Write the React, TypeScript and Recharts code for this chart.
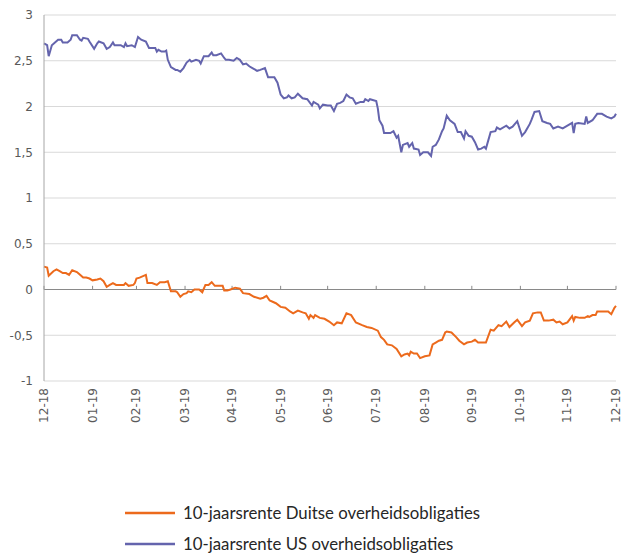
import React from 'react';
import {
  LineChart,
  Line,
  XAxis,
  YAxis,
  CartesianGrid,
  ReferenceLine,
  Legend,
} from 'recharts';

// days since 31-12-2018, month-end tick positions
const monthDays = [0, 31, 59, 90, 120, 151, 181, 212, 243, 273, 304, 334, 365];
const monthLabels = [
  '12-18', '01-19', '02-19', '03-19', '04-19', '05-19', '06-19',
  '07-19', '08-19', '09-19', '10-19', '11-19', '12-19',
];
const yTicks = [-1, -0.5, 0, 0.5, 1, 1.5, 2, 2.5, 3];

const deDays = [
  0, 2, 3, 6, 8, 10, 12, 14, 16, 18, 21, 23, 25, 27, 29, 31, 34, 36, 38, 40,
  42, 44, 46, 49, 51, 52, 54, 57, 58, 59, 61, 65, 66, 69, 72, 74, 77, 79, 81, 84,
  85, 87, 89, 91, 92, 94, 96, 99, 101, 103, 105, 107, 109, 111, 114, 115, 117, 119, 122, 125,
  127, 131, 134, 138, 140, 142, 144, 148, 151, 154, 157, 159, 162, 165, 167, 169, 170, 172, 173, 176,
  179, 182, 185, 187, 190, 193, 196, 199, 203, 206, 209, 213, 215, 217, 219, 222, 225, 228, 230, 232,
  233, 234, 236, 238, 240, 243, 246, 248, 250, 252, 254, 256, 257, 260, 263, 265, 268, 270, 273, 275,
  277, 280, 282, 285, 287, 290, 292, 295, 297, 300, 302, 305, 307, 310, 312, 315, 317, 319, 322, 325,
  327, 329, 331, 334, 337, 338, 339, 342, 345, 347, 348, 350, 352, 353, 356, 360, 362, 364, 365,
];
const deValues = [
  0.25, 0.24, 0.15, 0.2, 0.22, 0.2, 0.18, 0.18, 0.16, 0.21, 0.19, 0.16, 0.13, 0.13, 0.12, 0.1, 0.11, 0.12, 0.09, 0.03,
  0.05, 0.07, 0.05, 0.05, 0.05, 0.07, 0.04, 0.05, 0.07, 0.12, 0.13, 0.16, 0.07, 0.07, 0.05, 0.08, 0.08, 0.09, -0.02, -0.02,
  -0.03, -0.08, -0.05, -0.04, -0.02, -0.03, 0.0, 0.0, -0.03, 0.05, 0.05, 0.08, 0.04, 0.04, 0.04, -0.01, -0.01, 0.0, 0.02, 0.01,
  -0.04, -0.05, -0.08, -0.1, -0.09, -0.07, -0.12, -0.15, -0.19, -0.2, -0.24, -0.26, -0.23, -0.25, -0.26, -0.32, -0.28, -0.31, -0.28, -0.31,
  -0.32, -0.35, -0.39, -0.36, -0.37, -0.26, -0.28, -0.36, -0.39, -0.41, -0.42, -0.45, -0.52, -0.55, -0.6, -0.61, -0.65, -0.73, -0.71, -0.7,
  -0.72, -0.68, -0.7, -0.7, -0.75, -0.73, -0.72, -0.6, -0.58, -0.56, -0.55, -0.47, -0.46, -0.47, -0.52, -0.56, -0.6, -0.58, -0.57, -0.55,
  -0.58, -0.58, -0.58, -0.44, -0.45, -0.39, -0.4, -0.35, -0.41, -0.36, -0.33, -0.4, -0.36, -0.34, -0.26, -0.25, -0.25, -0.34, -0.34, -0.33,
  -0.36, -0.35, -0.38, -0.36, -0.29, -0.34, -0.3, -0.31, -0.31, -0.29, -0.3, -0.28, -0.28, -0.24, -0.24, -0.24, -0.27, -0.2, -0.18,
];

const usDays = [
  0, 2, 3, 5, 7, 9, 11, 12, 15, 17, 18, 21, 23, 24, 25, 28, 29, 32, 34, 35,
  38, 40, 42, 44, 45, 49, 51, 52, 53, 56, 58, 60, 62, 65, 67, 69, 71, 72, 73, 75,
  77, 78, 79, 81, 84, 85, 87, 89, 91, 93, 94, 97, 99, 100, 102, 105, 107, 108, 110, 113,
  115, 116, 118, 121, 123, 125, 127, 129, 131, 133, 136, 138, 141, 143, 147, 149, 151, 153, 155, 156,
  158, 160, 162, 165, 168, 171, 172, 175, 176, 178, 181, 183, 185, 187, 189, 191, 193, 195, 197, 199,
  202, 204, 205, 207, 208, 212, 213, 214, 216, 217, 221, 223, 225, 226, 228, 229, 232, 233, 235, 236,
  239, 240, 242, 245, 247, 248, 250, 252, 254, 255, 257, 259, 262, 264, 266, 268, 269, 271, 273, 275,
  277, 279, 281, 282, 285, 288, 289, 291, 295, 297, 299, 302, 305, 307, 310, 311, 313, 316, 318, 321,
  323, 325, 328, 331, 334, 337, 338, 339, 341, 345, 346, 347, 350, 353, 356, 359, 362, 364, 365,
];
const usValues = [
  2.69, 2.67, 2.55, 2.67, 2.7, 2.73, 2.73, 2.7, 2.7, 2.73, 2.78, 2.78, 2.73, 2.72, 2.75, 2.74, 2.71, 2.63, 2.69, 2.71,
  2.69, 2.63, 2.65, 2.7, 2.67, 2.67, 2.65, 2.69, 2.66, 2.67, 2.65, 2.76, 2.73, 2.71, 2.64, 2.64, 2.64, 2.6, 2.62, 2.6,
  2.6, 2.61, 2.51, 2.43, 2.4, 2.4, 2.38, 2.42, 2.48, 2.51, 2.49, 2.51, 2.5, 2.47, 2.55, 2.55, 2.59, 2.56, 2.56, 2.58,
  2.53, 2.51, 2.51, 2.5, 2.53, 2.51, 2.46, 2.47, 2.44, 2.42, 2.39, 2.4, 2.42, 2.32, 2.32, 2.26, 2.13, 2.09, 2.1, 2.12,
  2.09, 2.1, 2.14, 2.09, 2.08, 2.01, 2.05, 2.02, 1.98, 2.02, 2.01, 2.01, 1.95, 2.03, 2.04, 2.06, 2.13, 2.1, 2.09, 2.03,
  2.05, 2.05, 2.08, 2.06, 2.08, 2.06, 1.98, 1.85, 1.79, 1.71, 1.71, 1.73, 1.66, 1.68, 1.5, 1.58, 1.6, 1.56, 1.6, 1.54,
  1.53, 1.47, 1.5, 1.5, 1.46, 1.56, 1.58, 1.64, 1.73, 1.76, 1.9, 1.85, 1.81, 1.72, 1.72, 1.65, 1.73, 1.68, 1.67, 1.61,
  1.53, 1.54, 1.56, 1.54, 1.72, 1.73, 1.77, 1.75, 1.79, 1.76, 1.78, 1.84, 1.68, 1.72, 1.81, 1.85, 1.94, 1.95, 1.84, 1.82,
  1.81, 1.76, 1.78, 1.76, 1.79, 1.82, 1.71, 1.81, 1.82, 1.81, 1.89, 1.82, 1.85, 1.92, 1.92, 1.89, 1.87, 1.89, 1.92,
];

const deData = deDays.map((day, i) => ({ day, value: deValues[i] }));
const usData = usDays.map((day, i) => ({ day, value: usValues[i] }));

const axisText = { fontFamily: 'DejaVu Sans', fontSize: 12, fill: '#595959' };

const MonthTick = (props: any) => {
  const { x, y, payload } = props;
  const idx = monthDays.indexOf(payload.value);
  return (
    <g transform={`translate(${x},${y + 2})`}>
      <text x={0} y={0} dy={4} textAnchor='end' transform='rotate(-90)' {...axisText}>
        {monthLabels[idx]}
      </text>
    </g>
  );
};

const renderLegend = (props: any) => {
  const { payload } = props;
  return (
    <div>
      {payload.map((entry: any) => (
        <div key={entry.value} style={{ display: 'flex', alignItems: 'center', height: 31 }}>
          <svg width={50} height={4}>
            <line x1={0} y1={2} x2={50} y2={2} stroke={entry.color} strokeWidth={2.5} />
          </svg>
          <span style={{ marginLeft: 8, fontFamily: 'Lato', fontSize: 16.8, color: '#262626' }}>
            {entry.value}
          </span>
        </div>
      ))}
    </div>
  );
};

export default function App() {
  return (
    <div style={{ position: 'absolute', left: 0, top: 0, width: 622, height: 553, background: '#fff' }}>
      <LineChart width={622} height={553} margin={{ top: 15, right: 6, left: 0, bottom: 127 }}>
        <CartesianGrid vertical={false} stroke='#d9d9d9' />
        <XAxis
          dataKey='day'
          type='number'
          domain={[0, 365]}
          ticks={monthDays}
          interval={0}
          axisLine={false}
          tickLine={false}
          tickSize={3}
          tickMargin={2}
          height={45}
          tick={<MonthTick />}
        />
        <YAxis
          type='number'
          domain={[-1, 3]}
          ticks={yTicks}
          width={44}
          axisLine={{ stroke: '#a6a6a6' }}
          tickLine={false}
          tickMargin={5}
          tick={axisText}
          tickFormatter={(v: number) => String(v).replace('.', ',')}
        />
        <ReferenceLine y={0} stroke='#898989' />
        {monthDays.map((d) => (
          <ReferenceLine
            key={d}
            segment={[{ x: d, y: 0 }, { x: d, y: 0.04 }]}
            stroke='#898989'
          />
        ))}
        <Legend
          layout='vertical'
          align='center'
          verticalAlign='middle'
          wrapperStyle={{ left: 125, top: 497, width: 460 }}
          content={renderLegend}
        />
        <Line
          data={deData}
          dataKey='value'
          name='10-jaarsrente Duitse overheidsobligaties'
          stroke='#EC6A1C'
          strokeWidth={2}
          dot={false}
          isAnimationActive={false}
        />
        <Line
          data={usData}
          dataKey='value'
          name='10-jaarsrente US overheidsobligaties'
          stroke='#6464AD'
          strokeWidth={2}
          dot={false}
          isAnimationActive={false}
        />
      </LineChart>
    </div>
  );
}
